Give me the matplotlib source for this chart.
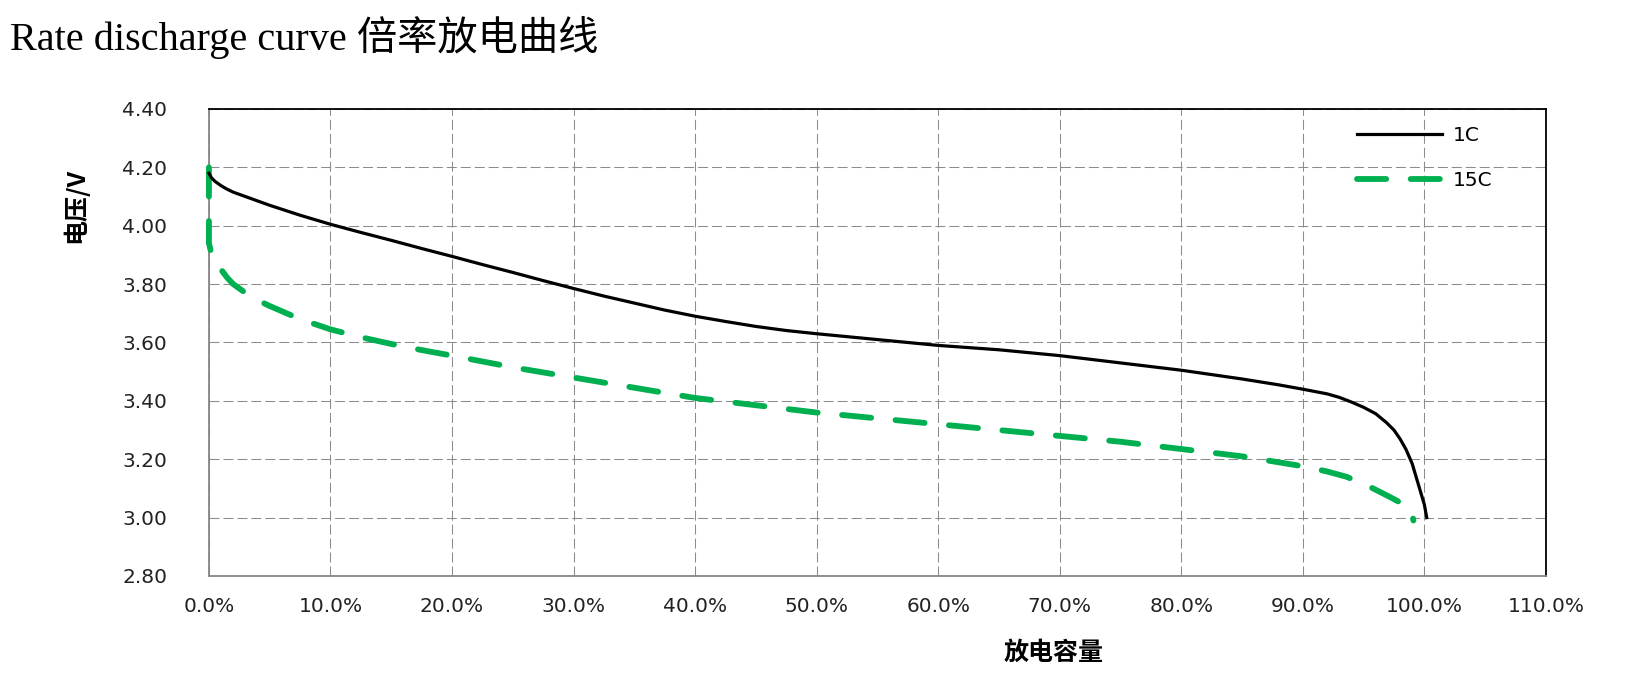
import matplotlib
matplotlib.use("Agg")
import matplotlib.pyplot as plt
from matplotlib.ticker import PercentFormatter, FormatStrFormatter, MultipleLocator

plt.rcParams['font.family'] = ['DejaVu Sans', 'Noto Sans CJK SC']

# 1C 放电曲线（容量%，电压V）
cap_1c = [0, 0.2, 0.5, 1, 1.5, 2, 3, 4, 5, 7.5, 10, 12.5, 15, 17.5, 20, 22.5, 25,
          27.5, 30, 32.5, 35, 37.5, 40, 42.5, 45, 47.5, 50, 52.5, 55, 57.5, 60,
          65, 70, 75, 80, 85, 88, 90, 91, 92, 93, 94, 95, 96, 96.9, 97.5, 98,
          98.5, 99, 99.5, 100, 100.2]
volt_1c = [4.18, 4.165, 4.152, 4.137, 4.125, 4.115, 4.10, 4.085, 4.07, 4.036, 4.005,
           3.977, 3.95, 3.922, 3.895, 3.867, 3.84, 3.812, 3.785, 3.759, 3.735,
           3.711, 3.69, 3.672, 3.655, 3.641, 3.63, 3.62, 3.61, 3.60, 3.59, 3.575,
           3.555, 3.53, 3.505, 3.475, 3.455, 3.44, 3.432, 3.424, 3.412, 3.396,
           3.378, 3.356, 3.325, 3.30, 3.27, 3.233, 3.185, 3.115, 3.045, 3.00]

# 15C 放电曲线
cap_15c = [0, 0, 0, 0, 0.2, 0.5, 1, 1.5, 2, 2.5, 3, 4, 5, 7.5, 10, 12.5, 15, 17.5,
           20, 25, 30, 35, 40, 45, 50, 55, 60, 65, 70, 75, 80, 85, 90.3, 92,
           93.6, 95.5, 97.2, 98, 98.5, 99.0, 99.1]
volt_15c = [4.20, 4.10, 4.00, 3.94, 3.905, 3.875, 3.85, 3.822, 3.80, 3.785, 3.77,
            3.745, 3.725, 3.68, 3.645, 3.618, 3.595, 3.574, 3.555, 3.515, 3.48,
            3.445, 3.41, 3.385, 3.36, 3.34, 3.32, 3.30, 3.28, 3.26, 3.235, 3.21,
            3.174, 3.158, 3.14, 3.106, 3.07, 3.052, 3.04, 3.02, 2.99]

labels = ['1C', '15C']

fig = plt.figure(figsize=(16.4, 6.79), dpi=100)
ax = fig.add_axes([0.1274, 0.1517, 0.8152, 0.6878])

ax.plot(cap_1c, volt_1c, color='black', lw=2.3, label=labels[0], zorder=4, clip_on=False)
ax.plot(cap_15c, volt_15c, color='#00B050', lw=4.2, label=labels[1], zorder=3,
        clip_on=False, linestyle=(0, (5.0, 4.2)), dash_capstyle='round')

ax.set_xlim(0, 110)
ax.set_ylim(2.80, 4.40)
ax.xaxis.set_major_locator(MultipleLocator(10))
ax.yaxis.set_major_locator(MultipleLocator(0.2))
ax.xaxis.set_major_formatter(PercentFormatter(xmax=100, decimals=1))
ax.yaxis.set_major_formatter(FormatStrFormatter('%.2f'))

# 网格
ax.grid(True, color='#8c8c8c', lw=0.75, linestyle=(0, (9.6, 3.8)))
ax.set_axisbelow(True)

ax.tick_params(axis='both', length=0, labelsize=14.5, labelcolor='#222222')
ax.tick_params(axis='y', pad=30)
ax.tick_params(axis='x', pad=15)

for s in ['left', 'bottom']:
    ax.spines[s].set_color('#868686')
    ax.spines[s].set_linewidth(1.3)
for s in ['top', 'right']:
    ax.spines[s].set_color('black')
    ax.spines[s].set_linewidth(1.3)

ax.set_xlabel('放电容量', fontsize=18, fontweight='bold', family=['Noto Sans CJK SC', 'DejaVu Sans'])
ax.set_ylabel('电压/V', fontsize=18, fontweight='bold', family=['Noto Sans CJK SC', 'DejaVu Sans'])
ax.xaxis.set_label_coords(0.632, -0.139)
ax.yaxis.set_label_coords(-0.09, 0.794)

ax.legend(loc='upper left', bbox_to_anchor=(0.859, 0.964), frameon=False,
          fontsize=14.5, handlelength=4.2, handletextpad=0.55, labelspacing=1.32,
          borderpad=0, borderaxespad=0)

fig.text(10 / 1640, 1 - 50 / 679, 'Rate discharge curve 倍率放电曲线', fontsize=29,
         family=['Liberation Serif', 'Noto Sans CJK SC'], va='baseline', ha='left')

fig.savefig('out.png', dpi=100)
